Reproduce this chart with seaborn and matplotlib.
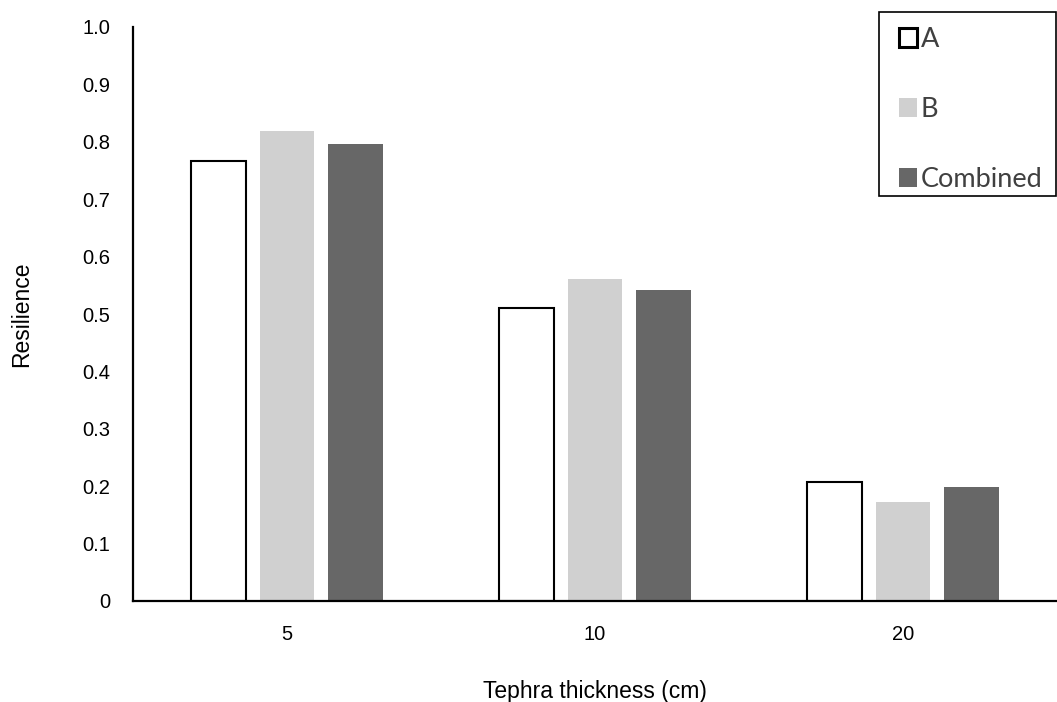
import matplotlib
matplotlib.use("Agg")
import matplotlib.pyplot as plt
from matplotlib.patches import Patch, Rectangle
from matplotlib.legend_handler import HandlerPatch
import seaborn as sns
import pandas as pd

# Resilience of each group at three tephra thicknesses
thickness = ["5", "10", "20"]
groups = ["A", "B", "Combined"]
res_a = [0.767, 0.510, 0.207]
res_b = [0.818, 0.561, 0.172]
res_combined = [0.796, 0.542, 0.199]
y_ticks = [0, 0.1, 0.2, 0.3, 0.4, 0.5, 0.6, 0.7, 0.8, 0.9, 1.0]
y_tick_labels = ["0", "0.1", "0.2", "0.3", "0.4", "0.5", "0.6", "0.7", "0.8", "0.9", "1.0"]

df = pd.DataFrame({
    "Tephra thickness (cm)": thickness * 3,
    "Group": [g for g in groups for _ in thickness],
    "Resilience": res_a + res_b + res_combined,
})

sns.set_theme(style="white")
plt.rcParams["font.family"] = ["Liberation Sans", "DejaVu Sans"]

fill = {"A": "#ffffff", "B": "#d0d0d0", "Combined": "#676767"}

W, H = 1057, 702
fig = plt.figure(figsize=(W / 100, H / 100), dpi=100)
ax = fig.add_axes([133 / W, 1 - 601 / H, 1 - 133 / W, (601 - 27) / H])

sns.barplot(data=df, x="Tephra thickness (cm)", y="Resilience", hue="Group",
            hue_order=groups, order=thickness, palette=fill, width=0.672,
            gap=0.203, saturation=1, errorbar=None, legend=False, ax=ax)

# Outline only the first group's bars
for bar in ax.containers[0]:
    bar.set_edgecolor("black")
    bar.set_linewidth(1.5)
for cont in ax.containers[1:]:
    for bar in cont:
        bar.set_edgecolor("none")
        bar.set_linewidth(0)

ax.set_ylim(0, 1.0)
ax.set_xlim(-0.5, 2.5)
ax.set_yticks(y_ticks)
ax.set_yticklabels(y_tick_labels)
ax.tick_params(axis="both", length=0, labelsize=14.5, colors="black")
ax.tick_params(axis="x", pad=17)
ax.tick_params(axis="y", pad=16.5)
ax.set_xlabel("Tephra thickness (cm)", fontsize=16.5, labelpad=26, color="black")
ax.set_ylabel("Resilience", fontsize=16.5, labelpad=35, color="black")

sns.despine(ax=ax)
for side in ("left", "bottom"):
    ax.spines[side].set_color("black")
    ax.spines[side].set_linewidth(1.6)


# Square legend keys, inset a little from the left of their slot
def square_key(legend, orig_handle, xdescent, ydescent, width, height, fontsize):
    side = 0.68 * fontsize
    return Rectangle((-xdescent + 0.24 * fontsize, -ydescent + (height - side) / 2),
                     side, side)


handles = [
    Patch(facecolor=fill["A"], edgecolor="black", linewidth=2.2),
    Patch(facecolor=fill["B"], edgecolor="none"),
    Patch(facecolor=fill["Combined"], edgecolor="none"),
]
leg = fig.legend(handles, groups, loc="upper left",
                 bbox_to_anchor=(879 / W, 1 - 14 / H, (1056 - 879) / W, 0),
                 mode="expand", borderaxespad=0, frameon=False,
                 prop={"family": "Lato", "size": 19.5}, labelcolor="#404040",
                 handler_map={Patch: HandlerPatch(patch_func=square_key)},
                 handlelength=0.9, handleheight=0.66, handletextpad=0.15,
                 labelspacing=1.66, borderpad=0.48)

# Legend box
fig.patches.append(Rectangle((879 / W, 1 - 196 / H), (1056 - 879) / W, (196 - 12) / H,
                             transform=fig.transFigure, facecolor="none",
                             edgecolor="black", linewidth=1.2, zorder=5))

fig.savefig("out.png", dpi=100)
